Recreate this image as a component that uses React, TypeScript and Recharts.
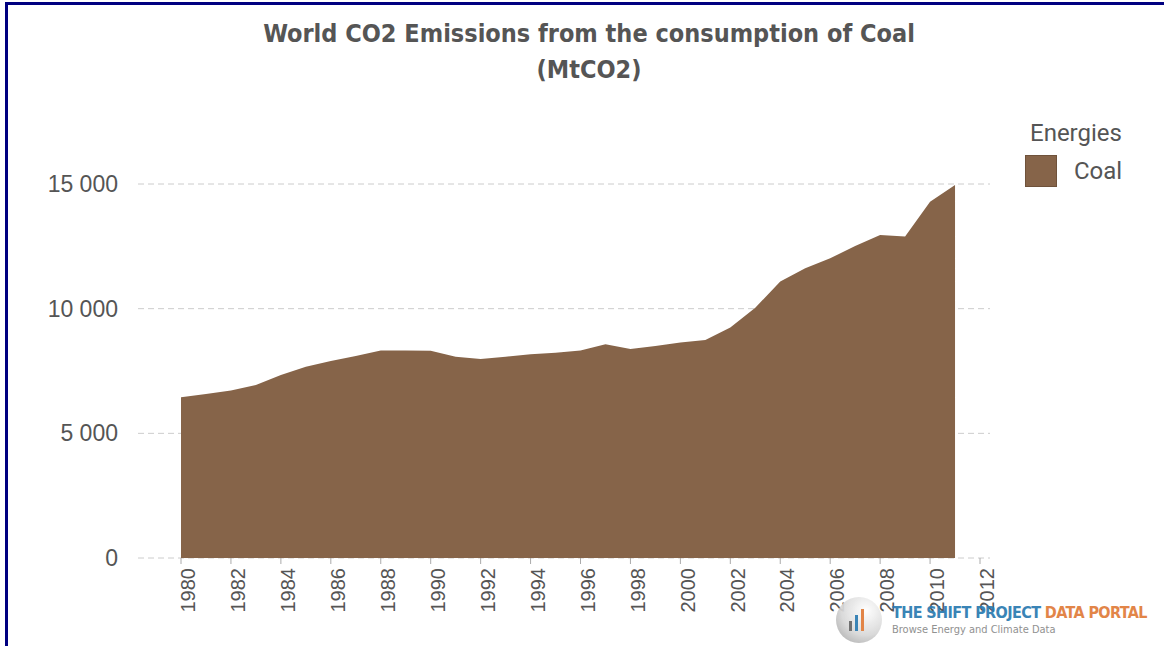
import React from 'react';
import { AreaChart, Area, XAxis, YAxis, CartesianGrid } from 'recharts';

const years = [
  1980, 1981, 1982, 1983, 1984, 1985, 1986, 1987, 1988, 1989, 1990,
  1991, 1992, 1993, 1994, 1995, 1996, 1997, 1998, 1999, 2000,
  2001, 2002, 2003, 2004, 2005, 2006, 2007, 2008, 2009, 2010, 2011,
];

const coal = [
  6450, 6580, 6720, 6940, 7340, 7670, 7900, 8100, 8320, 8320, 8310,
  8075, 7980, 8075, 8170, 8235, 8320, 8570, 8380, 8500, 8640,
  8745, 9240, 10040, 11085, 11620, 12020, 12515, 12955, 12890, 14290, 14960,
];

const xTicks = [1980, 1982, 1984, 1986, 1988, 1990, 1992, 1994, 1996, 1998, 2000, 2002, 2004, 2006, 2008, 2010, 2012];
const yTicks = [0, 5000, 10000, 15000];

const COAL_COLOR = '#866449';
const TEXT_COLOR = '#555555';

const data = years.map((year, i) => ({ year, coal: coal[i] }));

const fmt = (v: number) => (v >= 1000 ? `${Math.floor(v / 1000)} ${String(v % 1000).padStart(3, '0')}` : String(v));

// legend drawn as plain html so it doesn't eat into the plot area
const LegendBox = () => (
  <div
    style={{
      position: 'absolute',
      left: 1025,
      top: 119,
      fontFamily: 'Roboto, "Liberation Sans", sans-serif',
      color: TEXT_COLOR,
    }}
  >
    <div style={{ fontSize: 24, marginLeft: 5, lineHeight: '29px' }}>Energies</div>
    <div style={{ display: 'flex', alignItems: 'center', marginTop: 7 }}>
      <div style={{ width: 30, height: 30, background: COAL_COLOR, border: '1px solid #6f523b' }} />
      <span style={{ fontSize: 24, marginLeft: 17 }}>Coal</span>
    </div>
  </div>
);

const Watermark = () => (
  <div style={{ position: 'absolute', left: 836, top: 597, display: 'flex', alignItems: 'center', opacity: 0.92, whiteSpace: 'nowrap' }}>
    <div
      style={{
        width: 46,
        height: 46,
        borderRadius: 23,
        background: 'radial-gradient(circle at 65% 30%, #ffffff 0%, #d8d8d8 55%, #9a9a9a 100%)',
        position: 'relative',
      }}
    >
      <div style={{ position: 'absolute', left: 13, top: 24, width: 3, height: 10, background: '#666' }} />
      <div style={{ position: 'absolute', left: 19, top: 18, width: 3, height: 16, background: '#2a7ab0' }} />
      <div style={{ position: 'absolute', left: 25, top: 12, width: 3, height: 22, background: '#e07b39' }} />
    </div>
    <div style={{ marginLeft: 10, fontFamily: '"DejaVu Sans Condensed", "DejaVu Sans", sans-serif' }}>
      <div style={{ fontSize: 16, fontWeight: 'bold', lineHeight: '20px', letterSpacing: -0.6 }}>
        <span style={{ color: '#2a7ab0' }}>THE SHIFT PROJECT </span>
        <span style={{ color: '#e07b39' }}>DATA PORTAL</span>
      </div>
      <div style={{ fontSize: 11, color: '#888', lineHeight: '14px' }}>Browse Energy and Climate Data</div>
    </div>
  </div>
);

export default function App() {
  return (
    <div style={{ position: 'fixed', left: 0, top: 0, width: 1164, height: 646, background: '#fff', overflow: 'hidden' }}>
      <div
        style={{
          position: 'absolute',
          left: 5,
          top: 2,
          width: 1164,
          height: 660,
          borderTop: '3px solid #000080',
          borderLeft: '3px solid #000080',
          boxSizing: 'border-box',
        }}
      />
      <div
        style={{
          position: 'absolute',
          left: 0,
          width: 1178,
          top: 16,
          textAlign: 'center',
          fontFamily: '"DejaVu Sans Condensed", "DejaVu Sans", sans-serif',
          fontWeight: 'bold',
          fontSize: 25,
          lineHeight: '36px',
          color: TEXT_COLOR,
        }}
      >
        <div>World CO2 Emissions from the consumption of Coal</div>
        <div>(MtCO2)</div>
      </div>
      <AreaChart
        width={1164}
        height={646}
        data={data}
        margin={{ top: 184, right: 174, bottom: 0, left: 0 }}
        style={{ position: 'absolute', left: 0, top: 0 }}
      >
        <CartesianGrid vertical={false} stroke="#cccccc" strokeDasharray="6 4" />
        <XAxis
          dataKey="year"
          type="number"
          domain={[1980, 2012]}
          ticks={xTicks}
          padding={{ left: 43, right: 10 }}
          axisLine={false}
          tickLine={{ stroke: '#aaaaaa' }}
          tickSize={6}
          tickMargin={4}
          angle={-90}
          textAnchor="end"
          height={88}
          tick={{ fill: TEXT_COLOR, fontSize: 20, fontFamily: '"Liberation Sans", Arial, sans-serif' }}
        />
        <YAxis
          domain={[0, 15000]}
          ticks={yTicks}
          width={138}
          axisLine={false}
          tickLine={false}
          tickSize={6}
          tickMargin={14}
          tickFormatter={fmt}
          tick={{ fill: TEXT_COLOR, fontSize: 23, fontFamily: '"Liberation Sans", Arial, sans-serif' }}
        />
        <Area
          type="linear"
          dataKey="coal"
          name="Coal"
          fill={COAL_COLOR}
          fillOpacity={1}
          stroke="none"
          isAnimationActive={false}
        />
      </AreaChart>
      <LegendBox />
      <Watermark />
    </div>
  );
}
